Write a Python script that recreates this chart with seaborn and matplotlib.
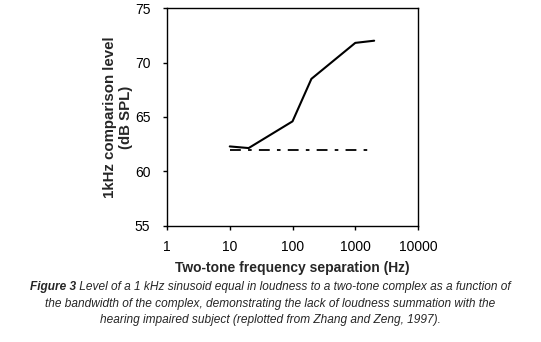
import numpy as np
import pandas as pd
import matplotlib
matplotlib.use("Agg")
import matplotlib.pyplot as plt
import seaborn as sns

# Two-tone frequency separation (Hz) and matched 1 kHz level (dB SPL)
separation_hz = [10, 20, 100, 200, 1000, 2000]
matched_level_db = [62.3, 62.15, 64.6, 68.5, 71.8, 72.0]

# Level of the single tone (reference, no summation)
reference_hz = [10, 2000]
reference_db = [62.0, 62.0]

x_ticks = [1, 10, 100, 1000, 10000]
x_tick_labels = ["1", "10", "100", "1000", "10000"]
y_ticks = [55, 60, 65, 70, 75]

sns.set_theme(style="white")
plt.rcParams["font.family"] = ["Liberation Sans", "DejaVu Sans"]

fig = plt.figure(figsize=(5.41, 3.42), dpi=100)
ax = fig.add_axes([0.3087, 0.3392, 0.4640, 0.6374])

df = pd.DataFrame({"sep": separation_hz, "level": matched_level_db})
ref = pd.DataFrame({"sep": reference_hz, "level": reference_db})

sns.lineplot(data=df, x="sep", y="level", ax=ax, color="black", lw=1.5)
sns.lineplot(data=ref, x="sep", y="level", ax=ax, color="black", lw=1.3,
             linestyle=(0, (6, 4, 2, 4)))

ax.set_xscale("log")
ax.set_xlim(1, 10000)
ax.set_ylim(55, 75)
ax.set_xticks(x_ticks)
ax.set_xticklabels(x_tick_labels)
ax.minorticks_off()
ax.set_yticks(y_ticks)

for s in ax.spines.values():
    s.set_color("black")
    s.set_linewidth(1.0)

ax.tick_params(axis="both", which="major", direction="out", length=3,
               width=1, color="black", labelsize=10, labelcolor="black",
               bottom=True, left=True)
ax.tick_params(axis="x", pad=7)
ax.tick_params(axis="y", pad=9)

ax.set_xlabel("Two-tone frequency separation (Hz)", fontsize=10,
              fontweight="bold", labelpad=5)
ax.set_ylabel("1kHz comparison level\n(dB SPL)", fontsize=10.8,
              fontweight="bold", labelpad=1, linespacing=1.2)

# Caption, first line mixes bold-italic and italic
fig.canvas.draw()
renderer = fig.canvas.get_renderer()
cap_size = 8.6
y1 = 1 - 287 / 342
t_bold = fig.text(0, y1, "Figure 3", fontsize=cap_size, style="italic",
                  fontweight="bold", va="center", ha="left")
t_rest = fig.text(0, y1, " Level of a 1 kHz sinusoid equal in loudness to a "
                  "two-tone complex as a function of", fontsize=cap_size,
                  style="italic", va="center", ha="left")
wb = t_bold.get_window_extent(renderer).width
wr = t_rest.get_window_extent(renderer).width
W = fig.bbox.width
x0 = (W - wb - wr) / 2
t_bold.set_x(x0 / W)
t_rest.set_x((x0 + wb) / W)

fig.text(0.5, 1 - 303.5 / 342,
         "the bandwidth of the complex, demonstrating the lack of loudness "
         "summation with the", fontsize=cap_size, style="italic",
         va="center", ha="center")
fig.text(0.5, 1 - 320 / 342,
         "hearing impaired subject (replotted from Zhang and Zeng, 1997).",
         fontsize=cap_size, style="italic", va="center", ha="center")

fig.savefig("out.png", dpi=100, facecolor="white")
